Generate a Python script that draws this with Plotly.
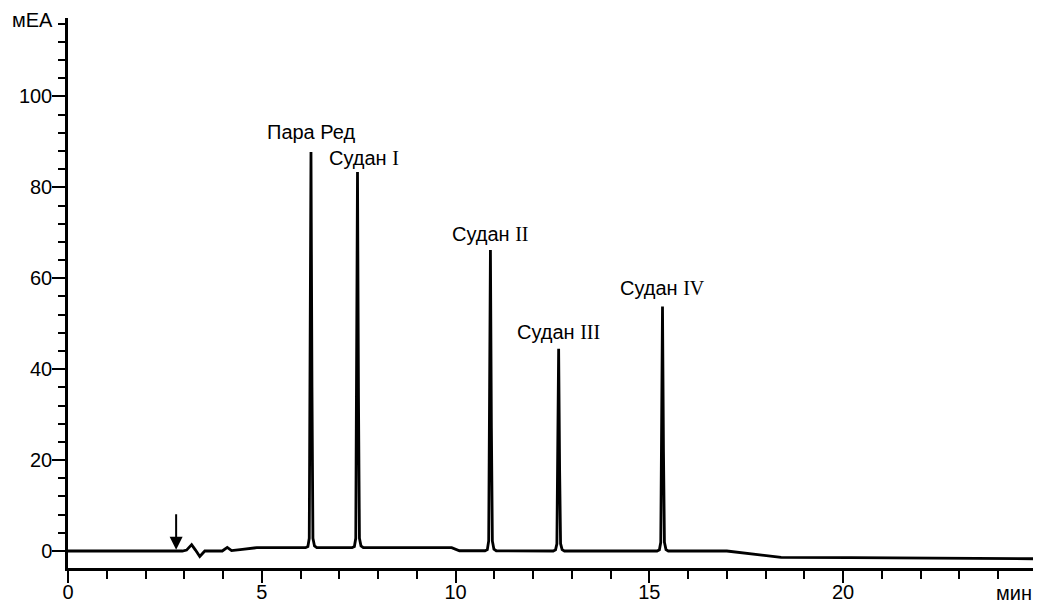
import plotly.graph_objects as go

# Chromatogram trace (retention time, min / detector signal, mAU)
time_min = [
    0.00, 2.95, 3.06, 3.19, 3.29, 3.40, 3.53, 3.98, 4.11, 4.22, 4.50, 4.87,
    # Пара Ред
    6.13, 6.19, 6.225, 6.245, 6.27, 6.295, 6.32, 6.36, 6.42,
    # Судан I
    7.33, 7.39, 7.425, 7.445, 7.47, 7.495, 7.52, 7.56, 7.62,
    9.90, 10.10,
    # Судан II
    10.76, 10.82, 10.855, 10.875, 10.90, 10.925, 10.95, 10.99, 11.05,
    # Судан III
    12.52, 12.58, 12.615, 12.635, 12.66, 12.685, 12.71, 12.75, 12.81,
    # Судан IV
    15.20, 15.26, 15.295, 15.315, 15.34, 15.365, 15.39, 15.43, 15.49,
    17.00, 17.70, 18.40, 20.20, 23.90, 24.90,
]
signal_mau = [
    0.00, 0.00, 0.20, 1.40, 0.20, -1.20, 0.00, 0.00, 0.80, 0.10, 0.35, 0.73,
    0.73, 1.00, 2.80, 36.0, 87.8, 36.0, 2.80, 1.10, 0.73,
    0.73, 1.00, 2.80, 34.0, 83.4, 34.0, 2.80, 1.10, 0.73,
    0.73, 0.05,
    0.05, 0.30, 2.20, 27.0, 66.2, 27.0, 2.20, 0.40, 0.05,
    0.00, 0.25, 1.60, 18.0, 44.5, 18.0, 1.60, 0.30, 0.00,
    0.00, 0.25, 1.90, 22.0, 53.8, 22.0, 1.90, 0.30, 0.00,
    0.00, -0.70, -1.40, -1.45, -1.65, -1.70,
]

# Peak identification labels
peak_names = ["Пара Ред", "Судан ", "Судан ", "Судан ", "Судан "]
peak_numerals = ["", "I", "II", "III", "IV"]
peak_times = [6.27, 7.47, 10.90, 12.66, 15.34]
peak_heights = [87.8, 83.4, 66.2, 44.5, 53.8]
label_dx = [0, 6, 0, 0, 0]
label_dy = [7, 1, 3, 4, 5]

injection_time = 2.79

sans = "Liberation Sans, Arial, sans-serif"
serif_span = '<span style="font-family:Liberation Serif, Times New Roman, serif">{}</span>'
FS = 20

fig = go.Figure()
fig.add_trace(go.Scatter(
    x=time_min, y=signal_mau, mode="lines",
    line=dict(color="black", width=2.8),
    hoverinfo="skip", showlegend=False,
))

annotations = []
for name, num, t, h, dx, dy in zip(peak_names, peak_numerals, peak_times,
                                   peak_heights, label_dx, label_dy):
    text = name + (serif_span.format(num) if num else "")
    annotations.append(dict(
        x=t, y=h, xref="x", yref="y", text=text, showarrow=False,
        xanchor="center", yanchor="bottom", xshift=dx, yshift=dy,
        font=dict(family=sans, size=FS, color="black"),
    ))

# injection marker
annotations.append(dict(
    x=injection_time, y=0.3, xref="x", yref="y", text="",
    showarrow=True, arrowhead=2, arrowsize=1.3, arrowwidth=2,
    arrowcolor="black", ax=0, ay=-37, standoff=0,
))

# axis unit labels
annotations.append(dict(
    x=0, y=116.8, xref="paper", yref="y", text="мЕА", showarrow=False,
    xanchor="right", yanchor="middle", xshift=-13,
    font=dict(family=sans, size=FS, color="black"),
))
annotations.append(dict(
    x=1, y=0, xref="paper", yref="paper", text="мин", showarrow=False,
    xanchor="right", yanchor="middle", yshift=-25, borderpad=0,
    font=dict(family=sans, size=FS, color="black"),
))

fig.update_layout(
    width=1037, height=605,
    margin=dict(l=68, r=4, t=18, b=37, autoexpand=False),
    paper_bgcolor="white", plot_bgcolor="white",
    font=dict(family=sans, size=FS, color="black"),
    annotations=annotations,
    showlegend=False,
)

fig.update_xaxes(
    range=[0, 24.9], showgrid=False, zeroline=False, automargin=False,
    showline=True, linecolor="black", linewidth=2.5,
    ticks="outside", tickmode="linear", tick0=0, dtick=5,
    ticklen=12, tickwidth=2.2, tickcolor="black", ticklabelstandoff=-8,
    minor=dict(ticks="outside", dtick=1, ticklen=8, tickwidth=2.2,
               tickcolor="black", showgrid=False),
    tickfont=dict(family=sans, size=FS, color="black"),
)
fig.update_yaxes(
    range=[-3.74, 117.27], showgrid=False, zeroline=False, automargin=False,
    showline=True, linecolor="black", linewidth=2.5,
    ticks="outside", tickmode="linear", tick0=0, dtick=20,
    ticklen=13, tickwidth=2.2, tickcolor="black", ticklabelstandoff=-4,
    minor=dict(ticks="outside", dtick=4, ticklen=7, tickwidth=2.2,
               tickcolor="black", showgrid=False),
    tickfont=dict(family=sans, size=FS, color="black"),
)

fig.write_html("out.html")
